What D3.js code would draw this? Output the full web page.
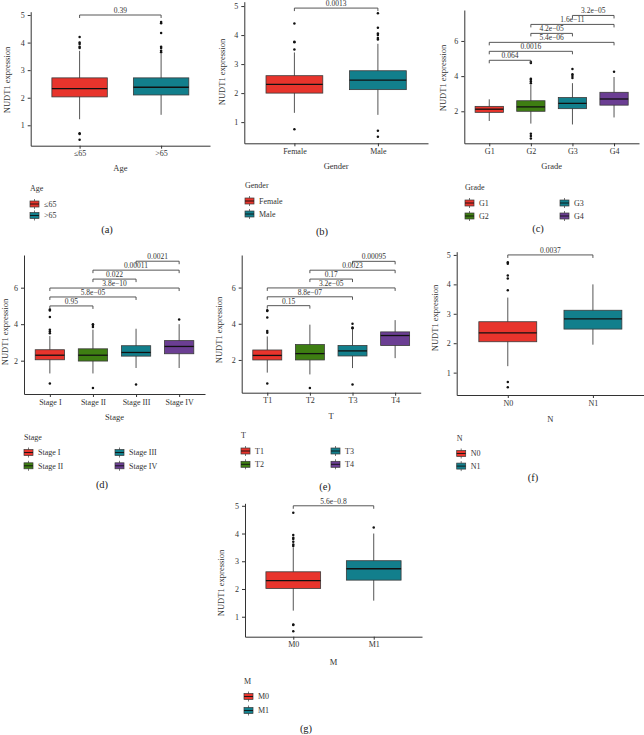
<!DOCTYPE html>
<html><head><meta charset="utf-8">
<script src="https://cdn.jsdelivr.net/npm/d3@7"></script>
<style>
html,body{margin:0;padding:0;background:#fff;}
svg{display:block;}
text{font-family:"Liberation Serif","DejaVu Serif",serif;}
</style></head>
<body>
<svg id="chart" width="644" height="735"></svg>
<script>
// ---------- DATA ----------
const yTitle = "NUDT1 expression";

const ageCategories = ["≤65", ">65"];
const ageBoxes = [[1.22, 2.03, 2.33, 2.72, 3.7], [1.38, 2.1, 2.38, 2.72, 3.6]];
const ageOutliers = [[0.48, 0.68, 0.71, 3.8, 3.85, 3.95, 4.0, 4.2], [3.65, 3.7, 3.8, 3.85, 4.35, 4.7, 4.75]];
const agePValues = ["0.39"];

const genderCategories = ["Female", "Male"];
const genderBoxes = [[1.32, 2.0, 2.3, 2.6, 3.4], [1.25, 2.12, 2.45, 2.77, 3.7]];
const genderOutliers = [[0.75, 3.5, 3.75, 3.77, 4.4], [0.5, 0.7, 3.85, 3.9, 4.0, 4.05, 4.25, 4.75]];
const genderPValues = ["0.0013"];

const gradeCategories = ["G1", "G2", "G3", "G4"];
const gradeBoxes = [[1.45, 1.94, 2.12, 2.28, 2.68], [1.3, 2.0, 2.25, 2.6, 3.5], [1.25, 2.15, 2.45, 2.78, 3.6], [1.65, 2.35, 2.7, 3.08, 3.95]];
const gradeOutliers = [[], [0.45, 0.6, 0.72, 3.6, 3.7, 3.8, 3.85, 4.75, 4.8], [3.9, 4.0, 4.1, 4.4], [4.25]];
const gradePValues = ["0.064", "0.0016", "5.4e\u221206", "4.2e\u221205", "1.6e\u221211", "3.2e\u221205"];

const stageCategories = ["Stage I", "Stage II", "Stage III", "Stage IV"];
const stageBoxes = [[1.3, 2.05, 2.3, 2.6, 3.35], [1.3, 1.98, 2.3, 2.65, 3.7], [1.6, 2.25, 2.45, 2.82, 3.75], [1.6, 2.38, 2.78, 3.1, 4.0]];
const stageOutliers = [[0.75, 3.5, 3.6, 3.7, 4.4, 4.75, 4.8], [0.5, 3.85, 3.95, 4.0], [0.7], [4.25]];
const stagePValues = ["0.95", "5.8e\u221205", "3.8e\u221210", "0.022", "0.00011", "0.0021"];

const tCategories = ["T1", "T2", "T3", "T4"];
const tBoxes = [[1.3, 2.0, 2.25, 2.55, 3.3], [1.2, 2.0, 2.35, 2.85, 3.95], [1.55, 2.22, 2.5, 2.8, 3.7], [2.1, 2.8, 3.35, 3.55, 4.2]];
const tOutliers = [[0.7, 3.5, 3.6, 4.35, 4.7, 4.75], [0.45], [0.65, 3.75, 3.8, 4.0], []];
const tPValues = ["0.15", "8.8e\u221207", "3.2e\u221205", "0.17", "0.0023", "0.00095"];

const nCategories = ["N0", "N1"];
const nBoxes = [[1.22, 2.05, 2.35, 2.73, 3.55], [1.95, 2.48, 2.83, 3.12, 4.0]];
const nOutliers = [[0.5, 0.68, 3.8, 4.2, 4.3, 4.7, 4.75], []];
const nPValues = ["0.0037"];

const mCategories = ["M0", "M1"];
const mBoxes = [[1.22, 2.02, 2.3, 2.62, 3.5], [1.58, 2.32, 2.73, 3.02, 4.0]];
const mOutliers = [[0.48, 0.7, 0.72, 3.55, 3.6, 3.7, 3.8, 3.85, 3.95, 4.75], [4.22]];
const mPValues = ["5.6e\u22120.8"];

const ticksFive = [1, 2, 3, 4, 5];
const ticksEven = [2, 4, 6];
const fourPairs = [[0, 1], [0, 2], [0, 3], [1, 2], [1, 3], [2, 3]];
const twoPairs = [[0, 1]];

const twoColors = ["#E8342C", "#127F8C"];
const fourColors = ["#E8342C", "#3E7E12", "#127F8C", "#6B3E93"];

// ---------- DRAW ----------
const svg = d3.select("#chart");

function drawPanel(c) {
  const g = svg.append("g");
  const x = d3.scalePoint().domain(c.cats).range([c.left, c.right]).padding(0.6);
  const y = d3.scaleLinear().domain(c.yDomain).range([c.bottom, c.top]);
  const bw = x.step() * 0.68;

  // axes
  const ya = g.append("g").attr("transform", `translate(${c.left},0)`)
    .call(d3.axisLeft(y).tickValues(c.ticks).tickFormat(d3.format("d")).tickSize(3).tickSizeOuter(0).tickPadding(3));
  const xa = g.append("g").attr("transform", `translate(0,${c.bottom})`)
    .call(d3.axisBottom(x).tickSize(3).tickSizeOuter(0).tickPadding(2));
  [ya, xa].forEach(a => {
    a.select(".domain").attr("stroke", "#333").attr("stroke-width", 1);
    a.selectAll(".tick line").attr("stroke", "#333");
    a.selectAll("text").attr("fill", "#333").style("font-size", "8px")
      .style("font-family", '"Liberation Serif",serif');
  });

  // boxes
  c.cats.forEach((cat, i) => {
    const [lo, q1, med, q3, hi] = c.boxes[i];
    const cx = x(cat);
    g.append("line").attr("x1", cx).attr("x2", cx).attr("y1", y(lo)).attr("y2", y(hi))
      .attr("stroke", "#555").attr("stroke-width", 1);
    g.append("rect").attr("x", cx - bw / 2).attr("width", bw)
      .attr("y", y(q3)).attr("height", y(q1) - y(q3))
      .attr("fill", c.colors[i]).attr("stroke", "#3a3a3a").attr("stroke-width", 0.8);
    g.append("line").attr("x1", cx - bw / 2).attr("x2", cx + bw / 2)
      .attr("y1", y(med)).attr("y2", y(med)).attr("stroke", "#111").attr("stroke-width", 1.3);
    c.outliers[i].forEach(v => {
      g.append("circle").attr("cx", cx).attr("cy", y(v)).attr("r", 1.25).attr("fill", "#111");
    });
  });

  // brackets
  c.pairs.forEach((p, k) => {
    const yv = y(c.bracketBase + k * c.bracketStep);
    const x1 = x(c.cats[p[0]]), x2 = x(c.cats[p[1]]);
    g.append("path").attr("d", `M${x1},${yv + 3}V${yv}H${x2}V${yv + 3}`)
      .attr("fill", "none").attr("stroke", "#444").attr("stroke-width", 0.9);
    g.append("text").attr("x", (x1 + x2) / 2).attr("y", Math.max(yv - 2, 6.2)).attr("text-anchor", "middle")
      .attr("fill", "#333").style("font-size", "7.5px").text(c.pvals[k]);
  });

  // titles
  g.append("text").attr("transform", `translate(${c.yTitleX},${c.yTitleY}) rotate(-90)`)
    .attr("text-anchor", "middle").attr("fill", "#333").style("font-size", "8.5px").text(yTitle);
  g.append("text").attr("x", (c.left + c.right) / 2).attr("y", c.xTitleY)
    .attr("text-anchor", "middle").attr("fill", "#333").style("font-size", "8.5px").text(c.name);

  // legend
  g.append("text").attr("x", c.legX).attr("y", c.legY).attr("fill", "#333")
    .style("font-size", "8px").text(c.name);
  c.cats.forEach((cat, i) => {
    const col = c.legCols > 1 ? Math.floor(i / 2) : 0;
    const row = c.legCols > 1 ? i % 2 : i;
    const kx = c.legX + col * c.legColW;
    const ky = c.legY + 13 + row * c.legRowH;
    g.append("line").attr("x1", kx + 4.5).attr("x2", kx + 4.5).attr("y1", ky - 5).attr("y2", ky + 5)
      .attr("stroke", "#555").attr("stroke-width", 0.8);
    g.append("rect").attr("x", kx).attr("y", ky - 3).attr("width", 9).attr("height", 6)
      .attr("fill", c.colors[i]).attr("stroke", "#3a3a3a").attr("stroke-width", 0.7);
    g.append("line").attr("x1", kx).attr("x2", kx + 9).attr("y1", ky).attr("y2", ky)
      .attr("stroke", "#111").attr("stroke-width", 0.9);
    g.append("text").attr("x", kx + 14).attr("y", ky + 2.8).attr("fill", "#333")
      .style("font-size", "8px").text(cat);
  });

  // letter
  g.append("text").attr("x", c.letterX).attr("y", c.letterY).attr("text-anchor", "middle")
    .attr("fill", "#222").style("font-size", "10.5px").text(c.letter);
}

drawPanel({name: "Age", cats: ageCategories, boxes: ageBoxes, outliers: ageOutliers, pvals: agePValues,
  pairs: twoPairs, colors: twoColors, ticks: ticksFive, yDomain: [0.26, 5.12],
  left: 30.7, right: 210, top: 11.7, bottom: 145.7, bracketBase: 5.0, bracketStep: 0,
  yTitleX: 10, yTitleY: 80, xTitleY: 171, legX: 30, legY: 191, legCols: 1, legRowH: 11.5, legColW: 0,
  letter: "(a)", letterX: 107, letterY: 233});

drawPanel({name: "Gender", cats: genderCategories, boxes: genderBoxes, outliers: genderOutliers, pvals: genderPValues,
  pairs: twoPairs, colors: twoColors, ticks: ticksFive, yDomain: [0.27, 5.15],
  left: 244.3, right: 428, top: 1.7, bottom: 143.3, bracketBase: 4.93, bracketStep: 0,
  yTitleX: 225, yTitleY: 72, xTitleY: 168.5, legX: 245, legY: 188, legCols: 1, legRowH: 13, legColW: 0,
  letter: "(b)", letterX: 322, letterY: 235});

drawPanel({name: "Grade", cats: gradeCategories, boxes: gradeBoxes, outliers: gradeOutliers, pvals: gradePValues,
  pairs: fourPairs, colors: fourColors, ticks: ticksEven, yDomain: [0.18, 7.76],
  left: 464.3, right: 639, top: 10, bottom: 143.3, bracketBase: 4.9, bracketStep: 0.51,
  yTitleX: 446, yTitleY: 78, xTitleY: 168.5, legX: 465, legY: 190, legCols: 2, legRowH: 13, legColW: 95,
  letter: "(c)", letterX: 538, letterY: 232});

drawPanel({name: "Stage", cats: stageCategories, boxes: stageBoxes, outliers: stageOutliers, pvals: stagePValues,
  pairs: fourPairs, colors: fourColors, ticks: ticksEven, yDomain: [0.175, 7.79],
  left: 24, right: 205, top: 255, bottom: 394, bracketBase: 5.0, bracketStep: 0.49,
  yTitleX: 8, yTitleY: 332, xTitleY: 419.5, legX: 24, legY: 439.5, legCols: 2, legRowH: 13.3, legColW: 91,
  letter: "(d)", letterX: 102, letterY: 488});

drawPanel({name: "T", cats: tCategories, boxes: tBoxes, outliers: tOutliers, pvals: tPValues,
  pairs: fourPairs, colors: fourColors, ticks: ticksEven, yDomain: [0.19, 7.8],
  left: 241.7, right: 420.7, top: 255, bottom: 392.7, bracketBase: 5.0, bracketStep: 0.49,
  yTitleX: 222, yTitleY: 330, xTitleY: 419, legX: 241, legY: 438, legCols: 2, legRowH: 13.3, legColW: 90,
  letter: "(e)", letterX: 325, letterY: 489.5});

drawPanel({name: "N", cats: nCategories, boxes: nBoxes, outliers: nOutliers, pvals: nPValues,
  pairs: twoPairs, colors: twoColors, ticks: ticksFive, yDomain: [0.24, 5.11],
  left: 456.7, right: 644, top: 251.7, bottom: 395, bracketBase: 5.0, bracketStep: 0,
  yTitleX: 437.5, yTitleY: 318, xTitleY: 422, legX: 456.7, legY: 440.5, legCols: 1, legRowH: 12.6, legColW: 0,
  letter: "(f)", letterX: 533, letterY: 481});

drawPanel({name: "M", cats: mCategories, boxes: mBoxes, outliers: mOutliers, pvals: mPValues,
  pairs: twoPairs, colors: twoColors, ticks: ticksFive, yDomain: [0.28, 5.09],
  left: 245, right: 422, top: 503.3, bottom: 636.7, bracketBase: 5.0, bracketStep: 0,
  yTitleX: 224, yTitleY: 583, xTitleY: 664.5, legX: 244, legY: 683.5, legCols: 1, legRowH: 14, legColW: 0,
  letter: "(g)", letterX: 306, letterY: 732});
</script>
</body></html>
